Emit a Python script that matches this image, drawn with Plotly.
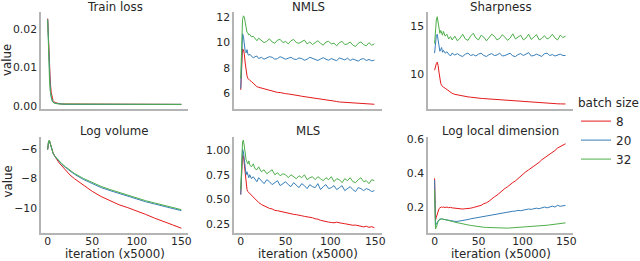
import plotly.graph_objects as go

# ---------------- data ----------------
batch_sizes = ["8", "20", "32"]
colors = ["#e41a1c", "#377eb8", "#4daf4a"]
panel_titles = ["Train loss", "NMLS", "Sharpness", "Log volume", "MLS", "Log local dimension"]
x_ticks = [0, 50, 100, 150]

x_sparse = [0, 1, 2, 3, 4, 5, 6, 8, 10, 13, 16, 20, 25, 30, 40, 50, 60, 70, 80, 90, 100, 110, 120, 130, 140, 150]

x_dense = [0, 1, 2, 3, 4, 5, 6, 7, 8, 9, 10, 12, 14, 16, 18, 20, 23, 26, 29, 32, 35, 38, 41, 44, 47,
           50, 53, 56, 59, 62, 65, 68, 71, 74, 77, 80, 83, 86, 89, 92, 95, 98, 101, 104, 107, 110,
           113, 116, 119, 122, 125, 128, 131, 134, 137, 140, 143, 146, 149]

train_loss_8 = [0.0228, 0.016, 0.0105, 0.006, 0.0035, 0.0021, 0.0014, 0.0009, 0.0007, 0.0006, 0.0005, 0.0005, 0.0004,
                0.0004, 0.0004, 0.0004, 0.0004, 0.0004, 0.0004, 0.0004, 0.0004, 0.0004, 0.0004, 0.0004, 0.0004, 0.0004]
train_loss_20 = [0.0226, 0.014, 0.0075, 0.004, 0.0022, 0.0014, 0.001, 0.0007, 0.0006, 0.0005, 0.0005, 0.0004, 0.0004,
                 0.0004, 0.0004, 0.0004, 0.0004, 0.0004, 0.0004, 0.0004, 0.0004, 0.0004, 0.0004, 0.0004, 0.0004, 0.0004]
train_loss_32 = [0.0225, 0.0135, 0.007, 0.0037, 0.002, 0.0013, 0.0009, 0.0007, 0.0006, 0.0005, 0.0005, 0.0004, 0.0004,
                 0.0004, 0.0004, 0.0004, 0.0004, 0.0004, 0.0004, 0.0004, 0.0004, 0.0004, 0.0004, 0.0004, 0.0004, 0.0004]

log_volume_8 = [-6.05, -5.5, -5.45, -5.65, -5.9, -6.1, -6.25, -6.5, -6.7, -6.95, -7.15, -7.45, -7.75, -8.0,
                -8.45, -8.85, -9.2, -9.5, -9.75, -9.95, -10.15, -10.4, -10.65, -10.9, -11.1, -11.33]
log_volume_20 = [-6.05, -5.5, -5.45, -5.7, -5.95, -6.15, -6.3, -6.5, -6.65, -6.85, -7.05, -7.25, -7.5, -7.7,
                 -8.05, -8.35, -8.6, -8.8, -9.0, -9.2, -9.4, -9.55, -9.7, -9.85, -10.0, -10.15]
log_volume_32 = [-6.0, -5.45, -5.45, -5.7, -5.95, -6.12, -6.28, -6.48, -6.62, -6.8, -7.0, -7.2, -7.45, -7.65,
                 -7.98, -8.27, -8.52, -8.73, -8.93, -9.12, -9.32, -9.48, -9.63, -9.78, -9.93, -10.08]

nmls_8 = [6.3, 8.5, 9.5, 9.45, 9.1, 8.4, 7.8, 7.4, 7.2, 7.1, 7.05, 6.95, 6.8, 6.67, 6.55, 6.5, 6.44, 6.35, 6.31,
          6.25, 6.22, 6.15, 6.1, 6.09, 6.02, 6.0, 5.98, 5.93, 5.91, 5.86, 5.84, 5.8, 5.77, 5.74, 5.71, 5.67, 5.66,
          5.62, 5.61, 5.58, 5.56, 5.5, 5.46, 5.42, 5.39, 5.35, 5.34, 5.32, 5.3, 5.28, 5.28, 5.25, 5.25, 5.22,
          5.23, 5.2, 5.18, 5.21, 5.17]
nmls_20 = [6.4, 9.5, 10.7, 10.5, 9.8, 9.3, 9.2, 9.45, 9.1, 9.0, 9.1,
           8.95, 8.8, 8.9, 8.95, 8.75, 8.85, 8.7, 8.8, 8.9, 8.85, 8.7, 8.75, 8.9, 8.8, 8.7,
           8.78, 8.85, 8.72, 8.68, 8.8, 8.75, 8.62, 8.7, 8.85, 8.78, 8.65, 8.6, 8.72, 8.82, 8.7,
           8.62, 8.75, 8.68, 8.58, 8.8, 8.7, 8.65, 8.78, 8.6, 8.72, 8.66, 8.55, 8.7, 8.75, 8.6,
           8.68, 8.58, 8.63]
nmls_32 = [7.2, 10.5, 11.8, 12.1, 12.0, 11.6, 11.0, 10.8, 10.75, 10.6, 10.65,
           10.45, 10.5, 10.3, 10.15, 10.35,
           10.2, 10.0, 10.1, 10.3, 10.05, 9.95, 10.2, 10.25, 10.0, 10.1,
           9.9, 10.15, 10.25, 10.0, 9.95, 10.1, 10.2, 9.9, 10.05, 9.85,
           10.0, 10.15, 9.95, 9.8, 10.05, 10.1, 9.9, 9.95, 9.75, 10.0,
           10.1, 9.85, 9.9, 10.05, 9.8, 9.7, 9.95, 10.05, 9.85, 9.75,
           10.0, 9.8, 9.9]

sharpness_8 = [10.4, 10.8, 11.1, 11.25, 10.9, 10.2, 9.5, 9.0, 8.8, 8.65, 8.6, 8.5, 8.35, 8.2, 8.05, 7.95, 7.85,
               7.78, 7.72, 7.65, 7.6, 7.58, 7.55, 7.5, 7.52, 7.45, 7.42, 7.4, 7.38, 7.36, 7.33, 7.3, 7.28, 7.26,
               7.25, 7.22, 7.2, 7.18, 7.15, 7.12, 7.1, 7.1, 7.05, 7.04, 7.0, 6.98, 6.97, 6.95, 6.93, 6.92, 6.9,
               6.9, 6.88, 6.87, 6.86, 6.85, 6.84, 6.85, 6.83]
sharpness_20 = [12.2, 13.4, 14.1, 14.2, 13.6, 12.9, 12.4, 12.6, 12.8, 12.3, 12.5,
                12.2, 12.35, 12.1, 11.9, 12.2,
                12.0, 12.15, 11.95, 11.85, 12.1, 12.2, 11.95, 12.05, 11.9, 12.1,
                12.2, 11.95, 11.85, 12.05, 12.15, 11.95, 12.0, 12.2, 11.9, 11.95,
                12.1, 12.2, 11.9, 11.85, 12.05, 12.15, 11.95, 12.1, 12.25, 11.9,
                11.95, 12.1, 12.0, 11.85, 12.15, 12.2, 11.95, 12.05, 11.9, 12.0,
                12.1, 11.95, 11.95]
sharpness_32 = [13.2, 14.8, 15.7, 16.05, 15.3, 14.7, 14.3, 14.6, 14.4, 14.1, 14.5,
                14.0, 14.2, 13.7, 13.95, 13.6,
                14.0, 13.5, 13.8, 14.2, 13.7, 13.55, 14.0, 14.3, 13.8, 13.6,
                14.1, 13.9, 13.5, 13.8, 14.2, 14.0, 13.6, 13.75, 14.15, 13.9,
                13.55, 13.8, 14.25, 13.7, 13.95, 14.1, 13.6, 13.8, 14.2, 13.65,
                13.9, 14.15, 13.6, 13.75, 14.05, 13.7, 13.85, 14.2, 13.8, 13.6,
                14.1, 13.85, 14.0]

mls_8 = [0.55, 0.85, 0.95, 0.94, 0.85, 0.72, 0.64, 0.6, 0.58, 0.57, 0.56, 0.54, 0.52, 0.5, 0.48, 0.47, 0.45,
         0.435, 0.42, 0.41, 0.405, 0.39, 0.387, 0.38, 0.372, 0.365, 0.362, 0.353, 0.35, 0.347, 0.338, 0.336,
         0.33, 0.327, 0.318, 0.316, 0.305, 0.302, 0.29, 0.282, 0.275, 0.272, 0.268, 0.265, 0.271, 0.263, 0.26,
         0.256, 0.249, 0.246, 0.24, 0.242, 0.234, 0.231, 0.224, 0.23, 0.219, 0.226, 0.215]
mls_20 = [0.55, 0.9, 1.01, 0.98, 0.88, 0.8, 0.75, 0.78, 0.74, 0.72, 0.75,
          0.71, 0.73, 0.7, 0.68, 0.72,
          0.69, 0.66, 0.7, 0.68, 0.65, 0.67, 0.69, 0.64, 0.66, 0.68,
          0.65, 0.63, 0.67, 0.64, 0.62, 0.66, 0.64, 0.61, 0.65, 0.63,
          0.62, 0.66, 0.6, 0.63, 0.65, 0.61, 0.62, 0.64, 0.6, 0.62,
          0.64, 0.59, 0.61, 0.63, 0.6, 0.58, 0.62, 0.61, 0.59, 0.61,
          0.6, 0.58, 0.59]
mls_32 = [0.6, 0.95, 1.08, 1.1, 1.05, 0.97, 0.9, 0.88, 0.86, 0.89, 0.85,
          0.83, 0.86, 0.81, 0.8, 0.83,
          0.78, 0.8, 0.76, 0.78, 0.8, 0.75, 0.77, 0.74, 0.76, 0.75,
          0.72, 0.75, 0.73, 0.71, 0.74, 0.72, 0.75, 0.7, 0.72, 0.73,
          0.7, 0.73, 0.71, 0.69, 0.72, 0.7, 0.73, 0.68, 0.71, 0.7,
          0.67, 0.71, 0.69, 0.72, 0.68, 0.67, 0.7, 0.72, 0.68, 0.69,
          0.66, 0.7, 0.69]

lld_8 = [0.37, 0.12, 0.14, 0.16, 0.18, 0.19, 0.195, 0.2, 0.2, 0.198, 0.2, 0.197, 0.2, 0.196, 0.198, 0.195, 0.193,
         0.19, 0.192, 0.188, 0.19, 0.19, 0.193, 0.197, 0.2, 0.205, 0.21, 0.22, 0.225, 0.235, 0.25, 0.26, 0.27,
         0.285, 0.295, 0.31, 0.32, 0.335, 0.345, 0.355, 0.37, 0.38, 0.395, 0.41, 0.42, 0.43, 0.44, 0.455, 0.465,
         0.48, 0.49, 0.5, 0.51, 0.52, 0.535, 0.55, 0.56, 0.57, 0.575]
lld_20 = [0.36, 0.09, 0.1, 0.11, 0.12, 0.125, 0.128, 0.13, 0.13, 0.128, 0.127, 0.125, 0.122, 0.12, 0.118, 0.116,
          0.115, 0.115, 0.117, 0.12, 0.123, 0.126, 0.13, 0.133, 0.136, 0.14, 0.142, 0.145, 0.148, 0.152, 0.154,
          0.157, 0.16, 0.162, 0.165, 0.166, 0.17, 0.172, 0.175, 0.176, 0.18, 0.178, 0.183, 0.185, 0.188, 0.186,
          0.19, 0.193, 0.19, 0.196, 0.2, 0.195, 0.202, 0.205, 0.2, 0.21, 0.204, 0.208, 0.21]
lld_32 = [0.3, 0.07, 0.08, 0.1, 0.115, 0.122, 0.126, 0.128, 0.13, 0.129, 0.128, 0.126, 0.124, 0.121, 0.118, 0.115,
          0.11, 0.106, 0.102, 0.1, 0.097, 0.094, 0.091, 0.088, 0.086, 0.084, 0.082, 0.08, 0.079, 0.078, 0.077,
          0.076, 0.076, 0.075, 0.075, 0.076, 0.075, 0.076, 0.077, 0.077, 0.078, 0.079, 0.08, 0.08, 0.082, 0.083,
          0.084, 0.086, 0.087, 0.088, 0.09, 0.092, 0.094, 0.096, 0.099, 0.1, 0.103, 0.105, 0.106]

panel_series = [
    (x_sparse, [train_loss_8, train_loss_20, train_loss_32]),
    (x_dense, [nmls_8, nmls_20, nmls_32]),
    (x_dense, [sharpness_8, sharpness_20, sharpness_32]),
    (x_sparse, [log_volume_8, log_volume_20, log_volume_32]),
    (x_dense, [mls_8, mls_20, mls_32]),
    (x_dense, [lld_8, lld_20, lld_32]),
]

y_ranges = [[-0.0008, 0.0245], [4.8, 12.4], [6.3, 16.55], [-11.65, -5.2], [0.162, 1.131], [0.046, 0.615]]
y_tickvals = [[0, 0.01, 0.02], [6, 8, 10, 12], [10, 15], [-10, -8, -6], [0.25, 0.5, 0.75, 1.0], [0.2, 0.4, 0.6]]
y_formats = [".2f", "d", "d", "d", ".2f", ".1f"]

# ---------------- layout geometry ----------------
W, H = 640, 261
col_px = [(41, 188), (234, 382), (428, 573)]
row_px = [(12, 109), (137, 233)]

FONT = "DejaVu Sans"
TXT = "#262626"
AXC = "#b4b4b4"

fig = go.Figure()
layout = dict(
    width=W, height=H, margin=dict(l=0, r=0, t=0, b=0, autoexpand=False),
    paper_bgcolor="white", plot_bgcolor="white",
    font=dict(family=FONT, size=11, color=TXT),
    showlegend=True,
    legend=dict(
        x=576 / W, y=1 - 91 / H, xanchor="left", yanchor="top",
        title=dict(text="batch size", font=dict(size=12, color=TXT)),
        font=dict(size=12, color=TXT), bgcolor="rgba(0,0,0,0)", borderwidth=0,
        itemwidth=30, tracegroupgap=0,
    ),
)
annotations = []

for i in range(6):
    r, c = divmod(i, 3)
    n = i + 1
    xa = "x" if n == 1 else f"x{n}"
    ya = "y" if n == 1 else f"y{n}"
    xs, ser = panel_series[i]
    for k in range(3):
        fig.add_trace(go.Scatter(
            x=xs, y=ser[k], mode="lines", name=batch_sizes[k],
            line=dict(color=colors[k], width=1), xaxis=xa, yaxis=ya,
            legendgroup=batch_sizes[k], showlegend=(i == 0), hoverinfo="skip",
        ))
    x0, x1 = col_px[c]
    y0, y1 = row_px[r]
    xdom = [x0 / W, x1 / W]
    ydom = [1 - y1 / H, 1 - y0 / H]
    layout["xaxis" if n == 1 else f"xaxis{n}"] = dict(
        domain=xdom, anchor=ya, range=[-7.5, 157.5], tickvals=x_ticks,
        showticklabels=(r == 1), showline=True, linecolor=AXC, linewidth=1.6,
        showgrid=False, zeroline=False, ticks="", tickfont=dict(size=10.8, color=TXT),
        ticklabelstandoff=-3,
    )
    layout["yaxis" if n == 1 else f"yaxis{n}"] = dict(
        domain=ydom, anchor=xa, range=y_ranges[i], tickvals=y_tickvals[i],
        tickformat=y_formats[i], showline=True, linecolor=AXC, linewidth=1.6,
        showgrid=False, zeroline=False, ticks="", tickfont=dict(size=10.8, color=TXT),
        ticklabelstandoff=0,
    )
    title_center = (y0 / 2 + 1) if r == 0 else (y0 - 6)
    annotations.append(dict(
        text=panel_titles[i], xref="paper", yref="paper",
        x=(x0 + x1) / 2 / W, y=1 - title_center / H, xanchor="center", yanchor="middle",
        showarrow=False, font=dict(size=11.8, color=TXT),
    ))
    if c == 0:
        annotations.append(dict(
            text="value", xref="paper", yref="paper", textangle=-90,
            x=7.5 / W, y=1 - ((y0 + y1) / 2 - (3 if r == 1 else 0)) / H,
            xanchor="center", yanchor="middle", showarrow=False,
            font=dict(size=11.8, color=TXT),
        ))
    if r == 1:
        annotations.append(dict(
            text="iteration (x5000)", xref="paper", yref="paper",
            x=(x0 + x1) / 2 / W, y=1 - 254 / H, xanchor="center", yanchor="middle",
            showarrow=False, font=dict(size=11.8, color=TXT),
        ))

layout["annotations"] = annotations
fig.update_layout(**layout)
fig.write_html(
    "out.html",
    config={"displayModeBar": False},
    post_script="document.body.style.margin='0';document.body.style.overflow='hidden';",
)
